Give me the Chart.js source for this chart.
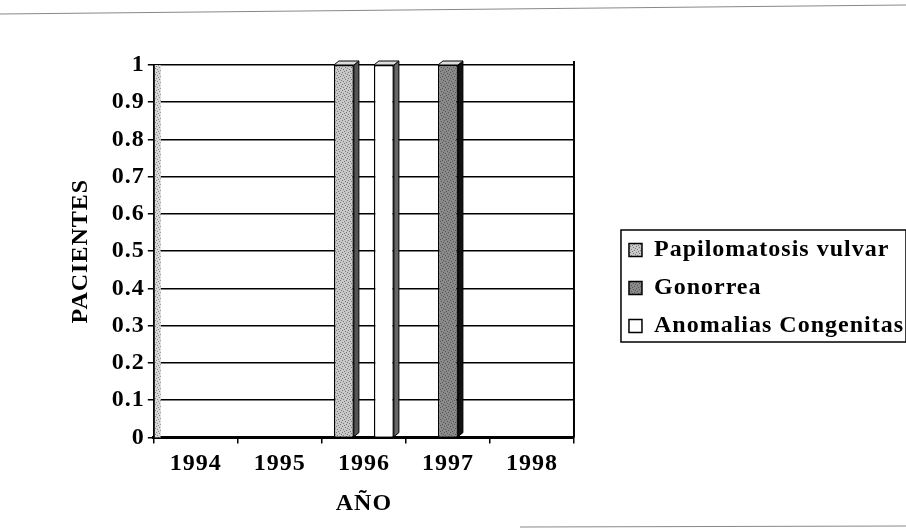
<!DOCTYPE html>
<html>
<head>
<meta charset="utf-8">
<script src="https://cdn.jsdelivr.net/npm/chart.js@4.4.0/dist/chart.umd.min.js"></script>
<style>
    body { margin: 0; background: #fff; }
    #wrap { width: 906px; height: 528px; }
</style>
</head>
<body>
<div id="wrap"><canvas id="chart" width="906" height="528"></canvas></div>
<script>
// Data
const years = ['1994', '1995', '1996', '1997', '1998'];
const papilomatosis = [0, 0, 1, 0, 0];
const gonorrea = [0, 0, 0, 1, 0];
const anomalias = [0, 0, 1, 0, 0];
const seriesNames = ['Papilomatosis vulvar', 'Gonorrea', 'Anomalias Congenitas'];

Chart.defaults.font.family = "'Liberation Serif', 'Times New Roman', serif";
Chart.defaults.font.weight = 'bold';
Chart.defaults.font.size = 24;
Chart.defaults.color = '#000';

const ctx = document.getElementById('chart').getContext('2d');

// small speckled fill, like the printed texture
function speckle(base, dots) {
    const c = document.createElement('canvas');
    c.width = c.height = 6;
    const p = c.getContext('2d');
    p.fillStyle = base;
    p.fillRect(0, 0, 6, 6);
    p.fillStyle = dots;
    [[0, 0], [3, 1], [1, 3], [4, 4], [5, 2], [2, 5]].forEach(([a, b]) => p.fillRect(a, b, 1, 1));
    return ctx.createPattern(c, 'repeat');
}

// Letter spacing for the old printed look
const spacingPlugin = {
    id: 'spacing',
    beforeUpdate(chart) { chart.ctx.letterSpacing = '1px'; },
    beforeLayout(chart) { chart.ctx.letterSpacing = '1px'; },
    beforeDraw(chart) { chart.ctx.letterSpacing = '1px'; }
};

// 3D side and top faces of the bars, plus frame lines
const decorPlugin = {
    id: 'decor',
    beforeDatasetsDraw(chart) {
        // left wall strip
        const a = chart.chartArea;
        const c = chart.ctx;
        c.save();
        c.fillStyle = speckle('#d8d8d8', '#888');
        c.fillRect(a.left + 1, a.top, 6, a.bottom - a.top);
        c.restore();
    },
    afterDatasetsDraw(chart) {
        const c = chart.ctx;
        const sides = ['#555', '#111', '#666'];
        chart.data.datasets.forEach((ds, i) => {
            const meta = chart.getDatasetMeta(i);
            meta.data.forEach((bar, j) => {
                if (!ds.data[j]) return;
                const { x, y, base, width } = bar.getProps(['x', 'y', 'base', 'width'], true);
                const r = x + width / 2, l = x - width / 2, dx = 5, dy = 4;
                c.save();
                c.fillStyle = sides[i];
                c.strokeStyle = '#000';
                c.lineWidth = 1;
                c.beginPath();
                c.moveTo(r, y); c.lineTo(r + dx, y - dy); c.lineTo(r + dx, base - dy); c.lineTo(r, base);
                c.closePath(); c.fill(); c.stroke();
                c.fillStyle = '#ddd';
                c.beginPath();
                c.moveTo(l, y); c.lineTo(l + dx, y - dy); c.lineTo(r + dx, y - dy); c.lineTo(r, y);
                c.closePath(); c.fill(); c.stroke();
                c.restore();
            });
        });
    },
    afterDraw(chart) {
        const c = chart.ctx;
        const a = chart.chartArea;
        c.save();
        // right wall of the plot
        c.strokeStyle = '#000';
        c.lineWidth = 2;
        c.beginPath();
        c.moveTo(a.right, a.top - 4);
        c.lineTo(a.right, a.bottom);
        c.stroke();
        // legend frame
        const hb = chart.legend.legendHitBoxes;
        if (hb && hb.length) {
            const left = Math.min(...hb.map(h => h.left)) - 8;
            const right = Math.max(...hb.map(h => h.left + h.width)) + 2;
            const top = Math.min(...hb.map(h => h.top)) - 8;
            const bottom = Math.max(...hb.map(h => h.top + h.height)) + 4;
            c.lineWidth = 1.5;
            c.strokeRect(left, top, right - left, bottom - top);
        }
        // scan edges
        c.strokeStyle = '#888';
        c.lineWidth = 1;
        c.beginPath();
        c.moveTo(0, 14); c.lineTo(906, 5);
        c.moveTo(520, 527); c.lineTo(906, 526);
        c.stroke();
        c.restore();
    }
};

new Chart(ctx, {
    type: 'bar',
    data: {
        labels: years,
        datasets: [{
            label: seriesNames[0],
            data: papilomatosis,
            backgroundColor: speckle('#c8c8c8', '#777'),
            borderColor: '#000',
            borderWidth: 1.5
        }, {
            label: seriesNames[1],
            data: gonorrea,
            backgroundColor: speckle('#8a8a8a', '#555'),
            borderColor: '#000',
            borderWidth: 1.5
        }, {
            label: seriesNames[2],
            data: anomalias,
            backgroundColor: '#fff',
            borderColor: '#000',
            borderWidth: 1.5
        }]
    },
    options: {
        responsive: false,
        animation: false,
        layout: {
            padding: { top: 50, right: -8, bottom: 2, left: 62 }
        },
        datasets: {
            bar: {
                categoryPercentage: 0.714,
                barPercentage: 1
            }
        },
        plugins: {
            legend: {
                position: 'right',
                maxWidth: 420,
                labels: {
                    boxWidth: 13,
                    boxHeight: 13,
                    padding: 14,
                    font: { size: 24, weight: 'bold' }
                }
            },
            tooltip: { enabled: false }
        },
        scales: {
            x: {
                grid: {
                    display: true,
                    drawOnChartArea: false,
                    color: '#000',
                    tickLength: 6,
                    lineWidth: 1.5
                },
                border: { color: '#000', width: 3 },
                ticks: { padding: 6, font: { size: 24 } },
                title: {
                    display: true,
                    text: 'AÑO',
                    font: { size: 24, weight: 'bold' },
                    padding: { top: 5, bottom: 8 }
                }
            },
            xTop: {
                position: 'top',
                type: 'category',
                labels: years,
                ticks: { display: false },
                grid: { display: false },
                border: { display: false },
                afterFit(scale) { scale.height = 15; }
            },
            y: {
                min: 0,
                max: 1,
                ticks: {
                    stepSize: 0.1,
                    padding: 3,
                    font: { size: 24 },
                    callback: v => String(+v.toFixed(1))
                },
                grid: {
                    color: '#000',
                    lineWidth: 1.5,
                    tickLength: 6
                },
                border: { color: '#000', width: 2 },
                title: {
                    display: true,
                    text: 'PACIENTES',
                    font: { size: 24, weight: 'bold' },
                    padding: { top: 4, bottom: 14 }
                }
            },
            yRight: {
                position: 'right',
                min: 0,
                max: 1,
                ticks: { display: false },
                grid: { drawOnChartArea: false, drawTicks: false },
                border: { display: false },
                afterFit(scale) { scale.width = 41; }
            }
        }
    },
    plugins: [spacingPlugin, decorPlugin]
});
</script>
</body>
</html>
